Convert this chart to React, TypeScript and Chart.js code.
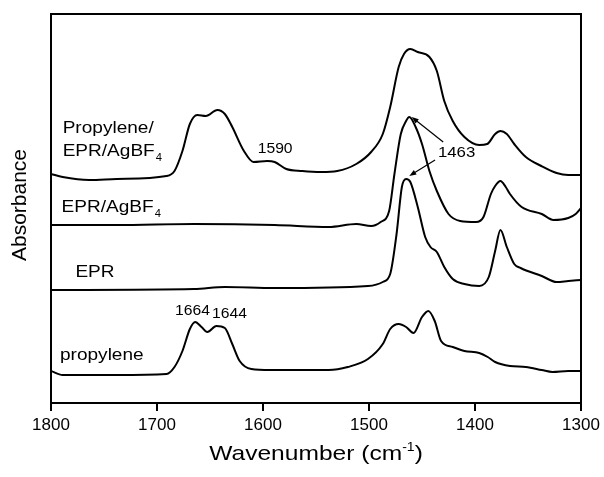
import React, { useEffect, useRef } from "react";
import { Chart, registerables } from "chart.js";

Chart.register(...registerables);

const FONT = "'Liberation Sans', Arial, Helvetica, sans-serif";

// Wavenumbers (cm-1) and absorbance (a.u., offset stacked)
const wnTop = [1800, 1789, 1764, 1738, 1691, 1683.5, 1676, 1669, 1662, 1654, 1643, 1636, 1629, 1618, 1609, 1596, 1589, 1578, 1563, 1545, 1530, 1512, 1498, 1487, 1480, 1472, 1467, 1461, 1454, 1443, 1436, 1429, 1421, 1410, 1396, 1388.5, 1381, 1376, 1370, 1363, 1352, 1337.5, 1323, 1312, 1300];
const absTop = [229, 226, 223, 224, 227, 232, 252, 279, 288, 287, 293, 289, 276, 252, 241, 242, 241, 234, 232, 231, 232, 239, 251, 269, 296, 336, 349, 354, 351, 346, 332, 302, 282, 266, 258, 259, 269, 272, 269, 259, 246, 237, 230, 228, 228];

const wnEprAg = [1800, 1738, 1665, 1589, 1538, 1512, 1498, 1489, 1481, 1476, 1470, 1465, 1462, 1456, 1450, 1443, 1436, 1425, 1414, 1399, 1392, 1385, 1381, 1376, 1371, 1367, 1356, 1337, 1326, 1312, 1305, 1300];
const absEprAg = [178, 178, 179, 178, 176, 179, 177, 181, 192, 229, 269, 282, 286, 276, 259, 232, 212, 189, 182, 181, 186, 209, 217, 222, 216, 209, 196, 189, 183, 185, 189, 195];

const wnEpr = [1800, 1665, 1636, 1589, 1501, 1487, 1480, 1474, 1469, 1465, 1461, 1454, 1447, 1442, 1436, 1429, 1421, 1410, 1396, 1387, 1381, 1376, 1370, 1363, 1357, 1337, 1323, 1312, 1300];
const absEpr = [113, 114, 116, 115, 117, 121, 129, 169, 216, 224, 221, 196, 166, 156, 151, 136, 124, 119, 117, 126, 152, 173, 156, 139, 135, 127, 121, 122, 123];

const wnProp = [1800, 1789, 1738, 1691, 1683.5, 1676, 1669, 1664, 1658, 1652.5, 1644, 1636, 1629, 1622, 1611, 1593, 1538, 1520, 1501, 1487, 1480, 1472, 1465, 1458, 1450, 1444, 1438, 1432, 1421, 1410, 1396, 1388, 1381, 1367, 1352, 1337, 1327, 1312, 1300];
const absProp = [32, 28, 28, 29, 36, 52, 74, 81, 76, 71, 77, 75, 59, 42, 34, 33, 33, 36, 44, 59, 74, 79, 76, 70, 86, 92, 82, 62, 56, 52, 50, 46, 41, 37, 36, 33, 31, 32, 32];

const xTicks = [1800, 1700, 1600, 1500, 1400, 1300];

type Lbl = { text: string; sub?: string; x: number; y: number; size: number };
const curveLabels: Lbl[] = [
  { text: "Propylene/", x: 1789, y: 270, size: 17 },
  { text: "EPR/AgBF", sub: "4", x: 1789, y: 247, size: 17 },
  { text: "EPR/AgBF", sub: "4", x: 1790, y: 191, size: 17 },
  { text: "EPR", x: 1777, y: 126, size: 17 },
  { text: "propylene", x: 1791.5, y: 43, size: 17 },
  { text: "1664", x: 1683, y: 88, size: 14 },
  { text: "1644", x: 1648, y: 85, size: 14 },
  { text: "1590", x: 1605, y: 250, size: 14 },
  { text: "1463", x: 1435, y: 246, size: 15 },
];

const arrows = [
  { x0: 1430, y0: 261, x1: 1459.7, y1: 286 },
  { x0: 1437.7, y0: 243, x1: 1462, y1: 227 },
];

const SX = 1.12;

function toPts(xs: number[], ys: number[]) {
  return xs.map((x, i) => ({ x, y: ys[i] }));
}

const annotPlugin = {
  id: "annot",
  afterDraw(chart: any) {
    const { ctx, chartArea } = chart;
    const xs = chart.scales.x;
    const ys = chart.scales.y;
    ctx.save();
    ctx.strokeStyle = "#000";
    ctx.lineWidth = 2;
    ctx.strokeRect(chartArea.left, chartArea.top, chartArea.right - chartArea.left, chartArea.bottom - chartArea.top);

    ctx.fillStyle = "#000";
    ctx.textBaseline = "alphabetic";
    ctx.textAlign = "left";
    for (const l of curveLabels) {
      const px = xs.getPixelForValue(l.x);
      const py = ys.getPixelForValue(l.y);
      ctx.save();
      ctx.translate(px, py);
      ctx.scale(SX, 1);
      ctx.font = `${l.size}px ${FONT}`;
      ctx.fillText(l.text, 0, 0);
      if (l.sub) {
        const w = ctx.measureText(l.text).width;
        ctx.font = `${Math.round(l.size * 0.6)}px ${FONT}`;
        ctx.fillText(l.sub, w + 1, 5);
      }
      ctx.restore();
    }

    ctx.lineWidth = 1.2;
    for (const a of arrows) {
      const x0 = xs.getPixelForValue(a.x0);
      const y0 = ys.getPixelForValue(a.y0);
      const x1 = xs.getPixelForValue(a.x1);
      const y1 = ys.getPixelForValue(a.y1);
      const ang = Math.atan2(y1 - y0, x1 - x0);
      const hl = 7;
      const hw = 2.6;
      ctx.beginPath();
      ctx.moveTo(x0, y0);
      ctx.lineTo(x1 - Math.cos(ang) * hl * 0.8, y1 - Math.sin(ang) * hl * 0.8);
      ctx.stroke();
      ctx.beginPath();
      ctx.moveTo(x1, y1);
      ctx.lineTo(x1 - Math.cos(ang) * hl - Math.sin(ang) * hw, y1 - Math.sin(ang) * hl + Math.cos(ang) * hw);
      ctx.lineTo(x1 - Math.cos(ang) * hl + Math.sin(ang) * hw, y1 - Math.sin(ang) * hl - Math.cos(ang) * hw);
      ctx.closePath();
      ctx.fill();
    }

    const cx = (chartArea.left + chartArea.right) / 2;
    ctx.save();
    ctx.translate(cx, 460);
    ctx.scale(1.17, 1);
    const main = "Wavenumber (cm";
    const sup = "-1";
    const close = ")";
    ctx.font = `21px ${FONT}`;
    const wMain = ctx.measureText(main).width;
    const wClose = ctx.measureText(close).width;
    ctx.font = `12px ${FONT}`;
    const wSup = ctx.measureText(sup).width;
    const total = wMain + wSup + wClose;
    let sx = -total / 2;
    ctx.font = `21px ${FONT}`;
    ctx.fillText(main, sx, 0);
    sx += wMain;
    ctx.font = `12px ${FONT}`;
    ctx.fillText(sup, sx, -9);
    sx += wSup;
    ctx.font = `21px ${FONT}`;
    ctx.fillText(close, sx, 0);
    ctx.restore();

    ctx.save();
    ctx.translate(26, 205);
    ctx.rotate(-Math.PI / 2);
    ctx.textAlign = "center";
    ctx.font = `21px ${FONT}`;
    ctx.fillText("Absorbance", 0, 0);
    ctx.restore();

    ctx.restore();
  },
};

export default function App() {
  const ref = useRef<HTMLCanvasElement | null>(null);
  useEffect(() => {
    if (!ref.current) return;
    const line = { borderColor: "#000", borderWidth: 2, pointRadius: 0, fill: false, cubicInterpolationMode: "monotone" as const };
    const chart = new Chart(ref.current, {
      type: "line",
      data: {
        datasets: [
          { label: "Propylene/EPR/AgBF4", data: toPts(wnTop, absTop), ...line },
          { label: "EPR/AgBF4", data: toPts(wnEprAg, absEprAg), ...line },
          { label: "EPR", data: toPts(wnEpr, absEpr), ...line },
          { label: "propylene", data: toPts(wnProp, absProp), ...line },
        ],
      },
      options: {
        responsive: false,
        animation: false,
        events: [],
        layout: { padding: { left: 51, top: 14, right: 23, bottom: 0 } },
        plugins: { legend: { display: false }, tooltip: { enabled: false } },
        scales: {
          x: {
            type: "linear",
            min: 1300,
            max: 1800,
            reverse: true,
            afterBuildTicks: (s: any) => {
              s.ticks = xTicks.map((v) => ({ value: v }));
            },
            afterFit: (s: any) => {
              s.height = 74;
            },
            ticks: {
              color: "#000",
              font: { size: 17, family: FONT },
              padding: 4,
              maxRotation: 0,
              autoSkip: false,
              callback: (v: any) => String(v),
            },
            grid: { drawOnChartArea: false, drawTicks: true, tickLength: 8, color: "#000", lineWidth: 2 },
            border: { display: false },
          },
          y: { display: false, min: 0, max: 389 },
        },
      },
      plugins: [annotPlugin],
    });
    return () => chart.destroy();
  }, []);
  return (
    <div style={{ position: "fixed", left: 0, top: 0, width: 604, height: 477, background: "#fff" }}>
      <canvas ref={ref} width={604} height={477} />
    </div>
  );
}
